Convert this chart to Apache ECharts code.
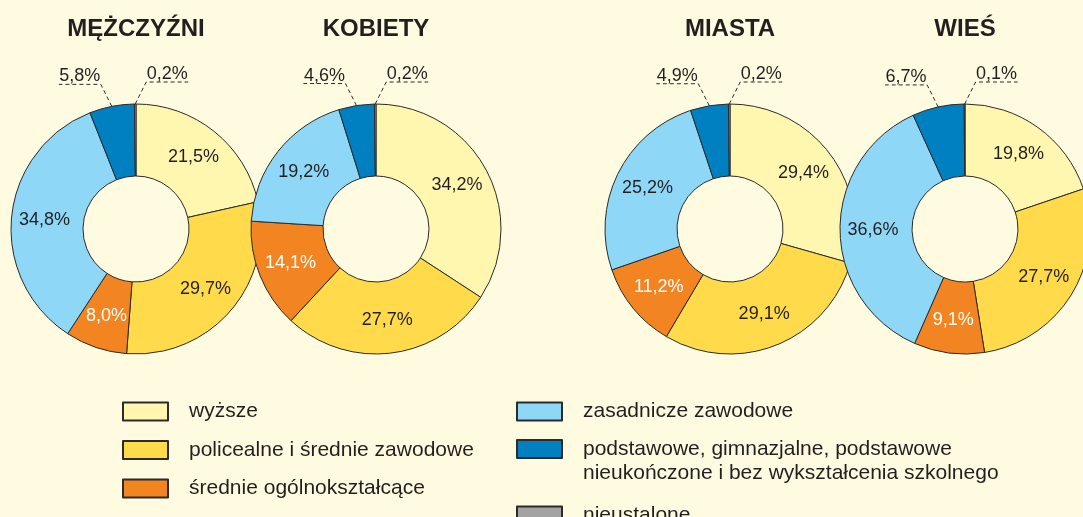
<!DOCTYPE html>
<html>
<head>
<meta charset="utf-8">
<script src="https://cdn.jsdelivr.net/npm/echarts@6/dist/echarts.min.js"></script>
<style>
  html, body { margin: 0; padding: 0; background: #fffbe0; }
  #chart { width: 1083px; height: 517px; }
</style>
</head>
<body>
<div id="chart"></div>
<script>
// kategorie wykształcenia (kolejność wycinków od godziny 12, zgodnie z ruchem wskazówek)
const categories = [
  'wyższe',
  'policealne i średnie zawodowe',
  'średnie ogólnokształcące',
  'zasadnicze zawodowe',
  'podstawowe, gimnazjalne, podstawowe nieukończone i bez wykształcenia szkolnego',
  'nieustalone'
]
const groups = ['MĘŻCZYŹNI', 'KOBIETY', 'MIASTA', 'WIEŚ']
const menValues = [21.5, 29.7, 8.0, 34.8, 5.8, 0.2]
const womenValues = [34.2, 27.7, 14.1, 19.2, 4.6, 0.2]
const cityValues = [29.4, 29.1, 11.2, 25.2, 4.9, 0.2]
const villageValues = [19.8, 27.7, 9.1, 36.6, 6.7, 0.1]

const colors = ['#fff6b0', '#ffdb4b', '#f28421', '#8fd7f7', '#0080c0', '#a3a3a3']
const centers = [[136, 229], [376, 229], [730, 229], [965, 229]]
const textColor = '#231f20'
const font = 'Liberation Sans, Arial, sans-serif'

const chart = echarts.init(document.getElementById('chart'))

function fmt(v) {
  return v.toFixed(1).replace('.', ',') + '%'
}

function buildData(values) {
  return values.map(function (v, i) {
    const outside = i >= 4
    return {
      name: categories[i],
      value: v,
      itemStyle: { color: colors[i] },
      label: {
        position: outside ? 'outside' : 'inside',
        color: i === 2 ? '#ffffff' : textColor
      },
      labelLine: { show: outside }
    }
  })
}

// etykiety małych wycinków: nad przerywaną kreską, z odnośnikiem do wycinka
function smallLabelLayout(params) {
  if (params.dataIndex < 4 || !params.labelLinePoints) return
  const p0 = params.labelLinePoints[0]
  const dir = params.dataIndex === 4 ? -1 : 1
  const p1 = [p0[0] + dir * 11, p0[1] - 22]
  const p2 = [p1[0] + dir * 42, p1[1]]
  return {
    x: (p1[0] + p2[0]) / 2,
    y: p1[1] + 1,
    align: 'center',
    verticalAlign: 'bottom',
    labelLinePoints: [p0, p1, p2]
  }
}

const allValues = [menValues, womenValues, cityValues, villageValues]

const series = allValues.map(function (vals, k) {
  return {
    name: groups[k],
    type: 'pie',
    center: centers[k],
    radius: [53, 125],
    startAngle: 90,
    clockwise: true,
    avoidLabelOverlap: false,
    silent: true,
    itemStyle: { borderColor: '#2b2b2b', borderWidth: 1 },
    label: {
      formatter: function (p) { return fmt(p.value) },
      fontFamily: font,
      fontSize: 18,
      color: textColor
    },
    labelLine: {
      lineStyle: { type: [4, 3], color: '#2b2b2b', width: 1 }
    },
    labelLayout: smallLabelLayout,
    data: buildData(vals)
  }
})

const legendText = {
  fontFamily: font,
  fontSize: 21,
  color: textColor,
  lineHeight: 18,
  padding: [0, 0, 0, 16]
}

chart.setOption({
  backgroundColor: '#fffbe0',
  animation: false,
  title: groups.map(function (g, k) {
    return {
      text: g,
      left: centers[k][0],
      top: 17,
      padding: 0,
      textAlign: 'center',
      textStyle: { fontFamily: font, fontSize: 24, fontWeight: 'bold', color: textColor }
    }
  }),
  legend: [
    {
      orient: 'vertical',
      left: 122,
      top: 401,
      padding: 0,
      itemWidth: 45,
      itemHeight: 18,
      itemGap: 17.5,
      icon: 'rect',
      selectedMode: false,
      textStyle: legendText,
      data: categories.slice(0, 3)
    },
    {
      orient: 'vertical',
      left: 516,
      top: 401,
      padding: 0,
      itemWidth: 45,
      itemHeight: 18,
      icon: 'rect',
      selectedMode: false,
      textStyle: legendText,
      data: [categories[3]]
    },
    {
      orient: 'vertical',
      left: 516,
      top: 413,
      padding: 0,
      itemWidth: 45,
      itemHeight: 18,
      icon: 'rect',
      selectedMode: false,
      formatter: function () {
        return '\npodstawowe, gimnazjalne, podstawowe\nnieukończone i bez wykształcenia szkolnego'
      },
      textStyle: {
        fontFamily: font,
        fontSize: 21,
        color: textColor,
        lineHeight: 24,
        padding: [0, 0, 0, 16]
      },
      data: [categories[4]]
    },
    {
      orient: 'vertical',
      left: 516,
      top: 505,
      padding: 0,
      itemWidth: 45,
      itemHeight: 18,
      icon: 'rect',
      selectedMode: false,
      textStyle: legendText,
      data: [categories[5]]
    }
  ],
  series: series
})
</script>
</body>
</html>
